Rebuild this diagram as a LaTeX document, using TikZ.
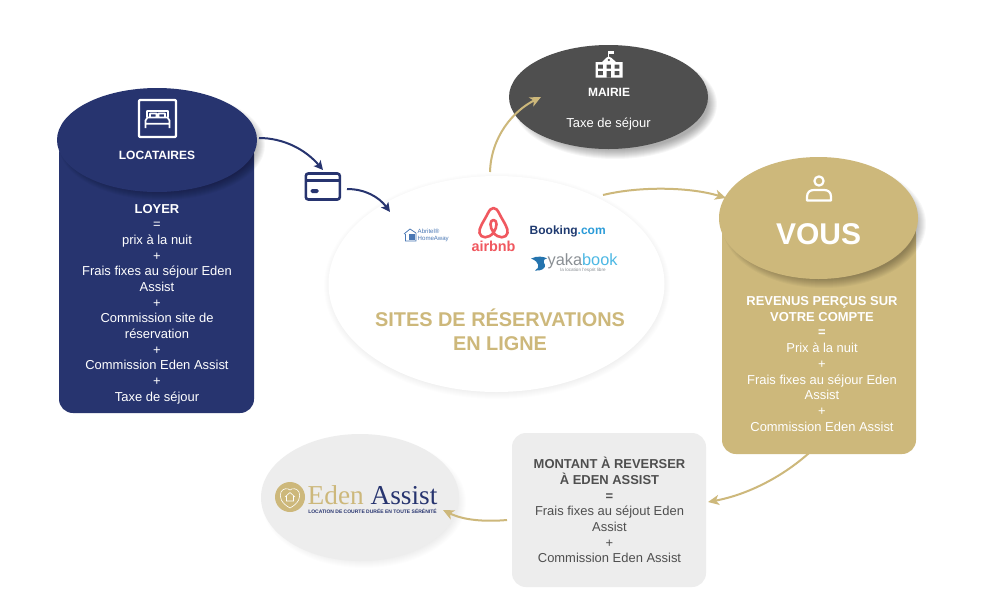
\documentclass[tikz,border=0pt]{standalone}
\usepackage{fontspec}
\setmainfont{Liberation Sans}
\newfontfamily\serifx{Liberation Serif}
\usetikzlibrary{arrows.meta,calc}
\definecolor{navy}{HTML}{27346F}
\definecolor{gold}{HTML}{CDB87B}
\definecolor{darkg}{HTML}{4F4F4F}
\definecolor{lightg}{HTML}{EDEDED}
\definecolor{abr}{HTML}{4A78B5}
\definecolor{air}{HTML}{F0585F}
\definecolor{bookn}{HTML}{1F3A70}
\definecolor{bookb}{HTML}{2A9BD8}
\definecolor{yaka}{HTML}{8A8F94}
\definecolor{yakb}{HTML}{4DB8E4}
\newcommand{\softell}[6]{% cx cy rx ry offset strength
  \foreach \k in {0,...,9}{
    \fill[black,opacity=#6] ({#1+#5},{#2+#5}) ellipse [x radius={#3+3-1.0*\k},y radius={#4+3-1.0*\k}];
  }}
\tikzset{
  x=1pt,y=-1pt,
  bodytext/.style={font=\fontsize{12.95}{15.67}\selectfont,align=center,inner sep=0pt,anchor=north},
  headtext/.style={font=\fontsize{12}{15}\selectfont\bfseries,inner sep=0pt},
  navyarrow/.style={draw=navy,line width=2pt,-{Stealth[length=9pt,width=9pt,inset=2pt]}},
  goldarrow/.style={draw=gold,line width=2pt,-{Stealth[length=11pt,width=10pt,inset=3pt]}},
  iconw/.style={draw=white,line width=2.2pt,line join=round},
  logo/.style={inner sep=0pt},
}
\begin{document}
\begin{tikzpicture}
\useasboundingbox (0,0) rectangle (1000,600);
\fill[white] (0,0) rectangle (1000,600);

% ---- locataires
\fill[navy,rounded corners=14pt] (59,140) rectangle (254,413);
\softell{157}{140}{100}{52}{5}{0.032}
\fill[navy] (157,140) ellipse [x radius=100,y radius=52];
\node[headtext,text=white] (locatitle) at (157,155.5) {LOCATAIRES};
\node[bodytext,text=white] (locabody) at (157,204) {\textbf{LOYER}\\=\\prix à la nuit\\+\\Frais fixes au séjour Eden\\Assist\\+\\Commission site de\\réservation\\+\\Commission Eden Assist\\+\\Taxe de séjour};
% bed icon
\draw[iconw,rounded corners=1pt] (139,100) rectangle (176,137);
\draw[iconw,line width=1.7pt] (147,117) -- (147,111) -- (168,111) -- (168,117)
  (145.5,128) -- (145.5,120.5) -- (147.5,117.5) -- (167.5,117.5) -- (169.5,120.5) -- (169.5,128) (145.5,123.8) -- (169.5,123.8)
  (150,117) -- (150,113.5) -- (156.5,113.5) -- (156.5,117) (158.5,117) -- (158.5,113.5) -- (165,113.5) -- (165,117);

% ---- mairie
\softell{609}{98}{99}{52}{6}{0.036}
\fill[darkg] (608.5,97) ellipse [x radius=99.5,y radius=52];
\node[headtext,text=white] (mairie) at (609,92) {MAIRIE};
\node[font=\fontsize{12.95}{15}\selectfont,text=white,inner sep=0pt] (taxe) at (608.5,124.5) {Taxe de séjour};
% town hall icon
\fill[white] (595.5,62) -- (602,62) -- (606,58) -- (608.7,56.5) -- (611.5,58) -- (616,62) -- (622.5,62) -- (622.5,77.5) -- (595.5,77.5) -- cycle;
\fill[white] (608.2,51) rectangle (609.4,57);
\fill[white] (608.2,51) rectangle (613.8,54);
\fill[darkg] (598.2,64.5) rectangle (602.8,68.5) (606.7,64.5) rectangle (610.8,68.5) (614.7,64.5) rectangle (619.3,68.5)
  (598.2,71) rectangle (602.8,75) (606.7,71) rectangle (610.8,77.5) (614.7,71) rectangle (619.3,75);
\fill[darkg] (608.8,60) circle (1.2);

% ---- central ellipse
\foreach \k in {0,...,9}{
  \fill[black,opacity=0.006] (497,286) ellipse [x radius={168+5-\k},y radius={108+5-\k}];
}
\fill[white] (496.5,284) ellipse [x radius=168,y radius=108];
\node[font=\fontsize{19.9}{24}\selectfont\bfseries,text=gold,align=center,inner sep=0pt] (sites) at (500,330) {SITES DE RÉSERVATIONS\\EN LIGNE};

% logos
\node[logo,font=\fontsize{6.1}{6.6}\selectfont,text=abr,align=left,anchor=west] (abritel) at (417.5,235.5) {Abritel®\\HomeAway};
\begin{scope}[shift={(404,229)}]
\draw[abr,line width=.8pt] (0,5) -- (6,0) -- (12,4) (1.5,5) -- (1.5,12) -- (12,12) -- (12,4);
\fill[abr] (5,5) rectangle (11,11);
\end{scope}
\draw[air,line width=2.6pt,line join=round,line cap=round]
  (493.5,208) .. controls (496,208) and (497.5,210) .. (499.5,214)
  .. controls (503.5,222) and (508.5,228) .. (507.5,233)
  .. controls (506.5,238.5) and (498,239) .. (493.5,232.5)
  .. controls (489.5,227) and (489.5,220) .. (493.5,220)
  .. controls (497.5,220) and (497.5,227) .. (493.5,232.5)
  .. controls (489,239) and (480.5,238.5) .. (479.5,233)
  .. controls (478.5,228) and (483.5,222) .. (487.5,214)
  .. controls (489.5,210) and (491,208) .. (493.5,208) -- cycle;
\node[logo,font=\fontsize{14.4}{15}\selectfont\bfseries,text=air] (airbnb) at (493.5,246.5) {airbnb};
\node[logo,font=\fontsize{12}{14}\selectfont\bfseries,text=bookn,anchor=west] (booking) at (529.5,231.5) {Booking\textcolor{bookb}{.com}};
\fill[bookn!40!bookb] (531,258.5) .. controls (537,255.5) and (544,256.5) .. (547,258.5)
  .. controls (543,259) and (543,262) .. (545,265) .. controls (546,268) and (541,271.5) .. (535,270.5)
  .. controls (540,268) and (540,262) .. (531,258.5) -- cycle;
\node[logo,font=\fontsize{16.3}{17}\selectfont,text=yaka,anchor=west] (yaka) at (547.5,261) {yaka\textcolor{yakb}{book}};
\node[logo,font=\fontsize{4.6}{5}\selectfont,text=yaka] (yakatag) at (583,270.8) {la location l'esprit libre};

% ---- vous
\fill[gold,rounded corners=14pt] (722,220) rectangle (916,454);
\softell{819}{219}{99}{61}{5}{0.032}
\fill[gold] (818.5,218) ellipse [x radius=99.5,y radius=61];
\node[font=\fontsize{30}{36}\selectfont\bfseries,text=white,inner sep=0pt] (vous) at (818.5,234.5) {VOUS};
\node[bodytext,text=white] (vousbody) at (822,296.4) {\textbf{REVENUS PERÇUS SUR}\\\textbf{VOTRE COMPTE}\\\textbf{=}\\Prix à la nuit\\+\\Frais fixes au séjour Eden\\Assist\\+\\Commission Eden Assist};
\draw[iconw] (819,181) circle (4.6);
\draw[iconw] (807,200.5) -- (831,200.5) -- (831,197) .. controls (831,192) and (828,190) .. (824,190) -- (814,190) .. controls (810,190) and (807,192) .. (807,197) -- cycle;

% ---- montant
\fill[lightg,rounded corners=14pt] (512,433) rectangle (706,587);
\node[bodytext,text=darkg] (montant) at (609.5,457.2) {\textbf{MONTANT À REVERSER}\\\textbf{À EDEN ASSIST}\\\textbf{=}\\Frais fixes au séjout Eden\\Assist\\+\\Commission Eden Assist};

% ---- eden
\softell{361}{499}{99}{63}{3}{0.006}
\fill[lightg] (360,497.5) ellipse [x radius=99,y radius=63.5];
\fill[gold] (290,497) circle (15);
\draw[white,line width=.6pt] (290,508) .. controls (281,503) and (279,497) .. (281,492) .. controls (283,488) and (288,488) .. (290,490)
  .. controls (292,488) and (297,488) .. (299,492) .. controls (301,497) and (299,503) .. (290,508) -- cycle;
\draw[white,line width=.6pt] (285,497) -- (290,492.5) -- (295,497) (286.5,496) -- (286.5,501) -- (293.5,501) -- (293.5,496);
\node[logo,font=\fontsize{27.3}{30}\serifx\selectfont,anchor=west] (edenlogo) at (307.5,495.5) {\textcolor{gold}{Eden} \textcolor{navy}{Assist}};
\node[logo,font=\fontsize{5}{5}\selectfont\bfseries,text=navy] (edentag) at (372.5,511.5) {LOCATION DE COURTE DURÉE EN TOUTE SÉRÉNITÉ};

% ---- credit card
\node[draw=navy,line width=2.6pt,rounded corners=2.5pt,minimum width=34pt,minimum height=26pt,inner sep=0pt] (card) at (322.8,186.5) {};
\draw[navy,line width=2.4pt] (306.5,180.5) -- (339,180.5);
\fill[navy,rounded corners=1.5pt] (310.5,189) rectangle (318.5,193);

% ---- connector ends
\coordinate (a1s) at (259,138);
\coordinate (a1e) at (323,170);
\coordinate (a2s) at (347,189);
\coordinate (a2e) at (390,212);
\coordinate (a3s) at (490,172);
\coordinate (a3e) at (541,97);
\coordinate (a4s) at (603,195);
\coordinate (a4e) at (726,198);
\coordinate (a5s) at (809,453);
\coordinate (a5e) at (708,502);
\coordinate (a6s) at (507,520);
\coordinate (a6e) at (443,510);

\draw[navyarrow] (a1s) .. controls (283,138) and (305,149) .. (a1e);
\draw[navyarrow] (a2s) .. controls (365,189) and (379,197) .. (a2e);
\draw[goldarrow] (a3s) .. controls (491,137) and (513,111) .. (a3e);
\draw[goldarrow] (a4s) .. controls (640,186) and (690,187) .. (a4e);
\draw[goldarrow] (a5s) .. controls (781,478) and (746,495) .. (a5e);
\draw[goldarrow] (a6s) .. controls (484,522) and (463,520) .. (a6e);
\end{tikzpicture}
\end{document}
